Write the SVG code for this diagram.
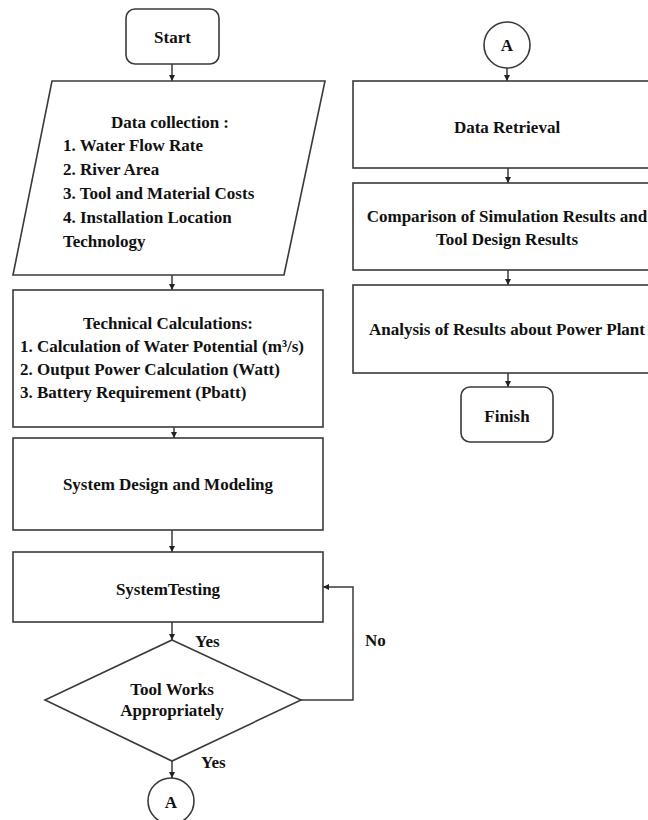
<svg xmlns="http://www.w3.org/2000/svg" width="648" height="820" viewBox="0 0 648 820">
  <defs>
    <style>
      .shape { fill: #ffffff; stroke: #3a3a3a; stroke-width: 1.6; }
      .edge { fill: none; stroke: #3a3a3a; stroke-width: 1.5; }
      .t { font-family: "Liberation Serif", "Times New Roman", serif; font-weight: bold; font-size: 17px; fill: #111111; }
      .c { text-anchor: middle; }
    </style>
    <marker id="arrow" viewBox="0 0 6 6" refX="6" refY="3" markerWidth="6" markerHeight="6" markerUnits="userSpaceOnUse" orient="auto">
      <path d="M0,0 L6,3 L0,6 z" fill="#222222"/>
    </marker>
  </defs>
  <rect width="648" height="820" fill="#ffffff"/>

  <!-- connectors -->
  <g id="connectors">
    <line class="edge" x1="172" y1="64" x2="172" y2="81" marker-end="url(#arrow)"/>
    <line class="edge" x1="172" y1="275" x2="172" y2="290" marker-end="url(#arrow)"/>
    <line class="edge" x1="174" y1="427" x2="174" y2="438" marker-end="url(#arrow)"/>
    <line class="edge" x1="172" y1="530" x2="172" y2="552" marker-end="url(#arrow)"/>
    <line class="edge" x1="172" y1="622" x2="172" y2="640" marker-end="url(#arrow)"/>
    <line class="edge" x1="172" y1="761" x2="172" y2="778" marker-end="url(#arrow)"/>
    <polyline class="edge" points="301,700 353,700 353,587 323,587" marker-end="url(#arrow)"/>
    <line class="edge" x1="507" y1="68" x2="507" y2="81" marker-end="url(#arrow)"/>
    <line class="edge" x1="508" y1="168" x2="508" y2="183" marker-end="url(#arrow)"/>
    <line class="edge" x1="508" y1="270" x2="508" y2="285" marker-end="url(#arrow)"/>
    <line class="edge" x1="508" y1="373" x2="508" y2="387" marker-end="url(#arrow)"/>
    <text class="t" x="195" y="647">Yes</text>
    <text class="t" x="201" y="768">Yes</text>
    <text class="t" x="365" y="646">No</text>
  </g>

  <!-- left column -->
  <g id="start">
    <rect class="shape" x="126" y="9" width="93" height="55" rx="9"/>
    <text class="t c" x="172.5" y="43">Start</text>
  </g>

  <g id="data-collection">
    <polygon class="shape" points="52,81 325,81 284,275 13,275"/>
    <text class="t c" x="170" y="128">Data collection :</text>
    <text class="t" x="63" y="151">1. Water Flow Rate</text>
    <text class="t" x="63" y="175">2. River Area</text>
    <text class="t" x="63" y="199">3. Tool and Material Costs</text>
    <text class="t" x="63" y="223">4. Installation Location</text>
    <text class="t" x="63" y="247">Technology</text>
  </g>

  <g id="technical-calculations">
    <rect class="shape" x="13" y="290" width="310" height="137"/>
    <text class="t c" x="168" y="329">Technical Calculations:</text>
    <text class="t" x="20" y="352">1. Calculation of Water Potential (m³/s)</text>
    <text class="t" x="20" y="375">2. Output Power Calculation (Watt)</text>
    <text class="t" x="20" y="398">3. Battery Requirement (Pbatt)</text>
  </g>

  <g id="system-design">
    <rect class="shape" x="13" y="438" width="310" height="92"/>
    <text class="t c" x="168" y="490">System Design and Modeling</text>
  </g>

  <g id="system-testing">
    <rect class="shape" x="13" y="552" width="310" height="70"/>
    <text class="t c" x="168" y="595">SystemTesting</text>
  </g>

  <g id="decision">
    <polygon class="shape" points="172,640 301,700 172,761 45,700"/>
    <text class="t c" x="172" y="695">Tool Works</text>
    <text class="t c" x="172" y="716">Appropriately</text>
  </g>

  <g id="connector-a-out">
    <circle class="shape" cx="171" cy="801" r="23"/>
    <text class="t c" x="171" y="808">A</text>
  </g>

  <!-- right column -->
  <g id="connector-a-in">
    <circle class="shape" cx="507" cy="45" r="23"/>
    <text class="t c" x="507" y="51">A</text>
  </g>

  <g id="data-retrieval">
    <rect class="shape" x="353" y="81" width="309" height="87"/>
    <text class="t c" x="507" y="133">Data Retrieval</text>
  </g>

  <g id="comparison">
    <rect class="shape" x="353" y="183" width="309" height="87"/>
    <text class="t c" x="507" y="222">Comparison of Simulation Results and</text>
    <text class="t c" x="507" y="245">Tool Design Results</text>
  </g>

  <g id="analysis">
    <rect class="shape" x="353" y="285" width="309" height="88"/>
    <text class="t c" x="507" y="335">Analysis of Results about Power Plant</text>
  </g>

  <g id="finish">
    <rect class="shape" x="461" y="387" width="92" height="55" rx="9"/>
    <text class="t c" x="507" y="422">Finish</text>
  </g>
</svg>
